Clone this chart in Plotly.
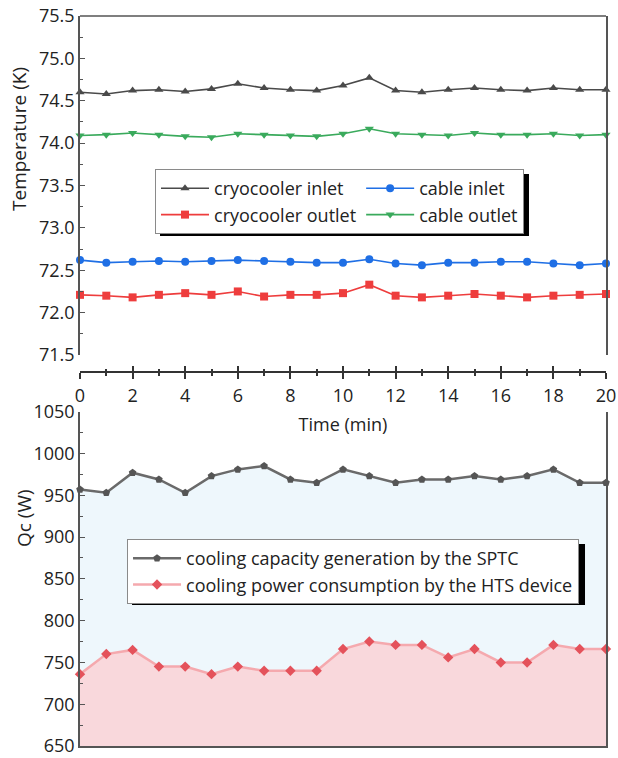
import plotly.graph_objects as go

time_min = list(range(0, 21))
x_ticks = list(range(0, 21, 2))

cryo_inlet = [74.60, 74.58, 74.62, 74.63, 74.61, 74.64, 74.70, 74.65, 74.63, 74.62, 74.68,
              74.77, 74.62, 74.60, 74.63, 74.65, 74.63, 74.62, 74.65, 74.63, 74.63]
cable_inlet = [72.62, 72.59, 72.60, 72.61, 72.60, 72.61, 72.62, 72.61, 72.60, 72.59, 72.59,
               72.63, 72.58, 72.56, 72.59, 72.59, 72.60, 72.60, 72.58, 72.56, 72.58]
cryo_outlet = [72.21, 72.20, 72.18, 72.21, 72.23, 72.21, 72.25, 72.19, 72.21, 72.21, 72.23,
               72.33, 72.20, 72.18, 72.20, 72.22, 72.20, 72.18, 72.20, 72.21, 72.22]
cable_outlet = [74.09, 74.10, 74.12, 74.10, 74.08, 74.07, 74.11, 74.10, 74.09, 74.08, 74.11,
                74.17, 74.11, 74.10, 74.09, 74.12, 74.10, 74.10, 74.11, 74.09, 74.10]

sptc_capacity = [957, 953, 977, 969, 953, 973, 981, 985, 969, 965, 981,
                 973, 965, 969, 969, 973, 969, 973, 981, 965, 965]
hts_consumption = [736, 760, 765, 745, 745, 736, 745, 740, 740, 740, 766,
                   775, 771, 771, 756, 766, 750, 750, 771, 766, 766]

FONT = "Open Sans"
TXT = "#222222"
AX = "#555555"

fig = go.Figure()

top_series = [
    ("cryocooler inlet", cryo_inlet, "#4a4a4a", "triangle-up"),
    ("cable inlet", cable_inlet, "#1f6fe5", "circle"),
    ("cryocooler outlet", cryo_outlet, "#ee3d3d", "square"),
    ("cable outlet", cable_outlet, "#3aaa5c", "triangle-down"),
]
for name, vals, col, sym in top_series:
    fig.add_trace(go.Scatter(
        x=time_min, y=vals, name=name, mode="lines+markers",
        line=dict(color=col, width=1.6),
        marker=dict(color=col, symbol=sym, size=8),
        xaxis="x", yaxis="y", legend="legend", cliponaxis=False,
    ))

# helper axis for crossing ticks on the time axis
fig.add_trace(go.Scatter(x=[], y=[], xaxis="x3", yaxis="y", showlegend=False, hoverinfo="skip"))

# filled areas (no legend entries)
fig.add_trace(go.Scatter(
    x=time_min, y=sptc_capacity, mode="none", fill="tozeroy", fillcolor="#eef7fc",
    xaxis="x2", yaxis="y2", showlegend=False, hoverinfo="skip",
))
fig.add_trace(go.Scatter(
    x=time_min, y=hts_consumption, mode="none", fill="tozeroy", fillcolor="#f9d8dc",
    xaxis="x2", yaxis="y2", showlegend=False, hoverinfo="skip",
))
# lines with markers
fig.add_trace(go.Scatter(
    x=time_min, y=sptc_capacity, name="cooling capacity generation by the SPTC",
    mode="lines+markers",
    line=dict(color="#6a6a6a", width=2.5),
    marker=dict(color="#555555", symbol="pentagon", size=8),
    xaxis="x2", yaxis="y2", legend="legend2", cliponaxis=False,
))
fig.add_trace(go.Scatter(
    x=time_min, y=hts_consumption, name="cooling power consumption by the HTS device",
    mode="lines+markers",
    line=dict(color="#f5a9ae", width=2.5),
    marker=dict(color="#e4525b", symbol="diamond", size=8),
    xaxis="x2", yaxis="y2", legend="legend2", cliponaxis=False,
))

tickfont = dict(family=FONT, size=18, color=TXT)

fig.update_layout(
    width=618, height=758,
    margin=dict(l=80, r=12, t=16, b=12, autoexpand=False),
    paper_bgcolor="white", plot_bgcolor="rgba(0,0,0,0)",
    font=dict(family=FONT, size=18, color=TXT),
    showlegend=True,
    xaxis=dict(
        domain=[0, 1], anchor="free", position=0.5123, range=[0, 20], automargin=False,
        tickvals=x_ticks, ticktext=[str(v) for v in x_ticks],
        ticks="outside", ticklen=6, tickwidth=1.5, tickcolor="#333333",
        minor=dict(dtick=1, tick0=0, ticks="outside", ticklen=3, tickwidth=1.5, tickcolor="#333333"),
        showline=True, linecolor="#333333", linewidth=1.5,
        showgrid=False, zeroline=False, tickfont=tickfont, ticklabelstandoff=2,
        ticklabeloverflow="allow",
        title=dict(text="Time (min)", font=dict(family=FONT, size=18, color=TXT), standoff=11),
    ),
    xaxis3=dict(
        domain=[0, 1], anchor="free", position=0.5123, range=[0, 20], overlaying="x",
        automargin=False,
        tickvals=x_ticks, showticklabels=False,
        ticks="inside", ticklen=6, tickwidth=1.5, tickcolor="#333333",
        minor=dict(dtick=1, tick0=0, ticks="inside", ticklen=3, tickwidth=1.5, tickcolor="#333333"),
        showline=False, showgrid=False, zeroline=False,
    ),
    yaxis=dict(
        domain=[0.5356, 1.0], anchor="x", range=[71.5, 75.5], automargin=False,
        dtick=0.5, tick0=71.5, tickformat=".1f",
        ticks="inside", ticklen=5, tickwidth=1.2, tickcolor=AX,
        minor=dict(dtick=0.25, ticks="inside", ticklen=3, tickwidth=1.2, tickcolor=AX),
        showline=True, mirror=True, linecolor=AX, linewidth=1.5,
        showgrid=False, zeroline=False, tickfont=tickfont, ticklabeloverflow="allow",
    ),
    xaxis2=dict(
        domain=[0, 1], anchor="y2", range=[0, 20], automargin=False,
        showticklabels=False, ticks="", showline=True, linecolor=AX, linewidth=1.5,
        showgrid=False, zeroline=False,
    ),
    yaxis2=dict(
        domain=[0.0, 0.4579], anchor="x2", range=[650, 1050], automargin=False,
        dtick=50, tick0=650,
        ticks="inside", ticklen=5, tickwidth=1.2, tickcolor=AX,
        minor=dict(dtick=25, ticks="inside", ticklen=3, tickwidth=1.2, tickcolor=AX),
        showline=True, mirror=True, linecolor=AX, linewidth=1.5,
        showgrid=False, zeroline=False, tickfont=tickfont, ticklabeloverflow="allow",
    ),
    legend=dict(
        x=0.1426, y=0.7904, xanchor="left", yanchor="top",
        orientation="h", itemwidth=48,
        bgcolor="white", bordercolor="#8a8a8a", borderwidth=1,
        font=dict(family=FONT, size=18, color=TXT),
    ),
    legend2=dict(
        x=0.0894, y=0.2836, xanchor="left", yanchor="top",
        orientation="v", itemwidth=48,
        bgcolor="white", bordercolor="#8a8a8a", borderwidth=1,
        font=dict(family=FONT, size=18, color=TXT),
    ),
    shapes=[
        dict(type="line", xref="x domain", yref="y domain", x0=0, x1=1, y0=1, y1=1,
             line=dict(color=AX, width=1.5)),
        dict(type="rect", xref="paper", yref="paper", x0=0.1521, x1=0.8536, y0=0.6986, y1=0.7836,
             fillcolor="black", line=dict(width=0), layer="above"),
        dict(type="rect", xref="paper", yref="paper", x0=0.0989, x1=0.9601, y0=0.1932, y1=0.2767,
             fillcolor="black", line=dict(width=0), layer="above"),
    ],
    annotations=[
        dict(text="Temperature (K)", xref="paper", yref="paper", x=-0.116, y=0.8315,
             xanchor="center", yanchor="middle",
             textangle=-90, showarrow=False, font=dict(family=FONT, size=19, color=TXT)),
        dict(text="Qc (W)", xref="paper", yref="paper", x=-0.1065, y=0.3123,
             xanchor="center", yanchor="middle",
             textangle=-90, showarrow=False, font=dict(family=FONT, size=19, color=TXT)),
    ],
)

fig.write_html("out.html", config={"displayModeBar": False},
               post_script="document.body.style.margin='0';")
